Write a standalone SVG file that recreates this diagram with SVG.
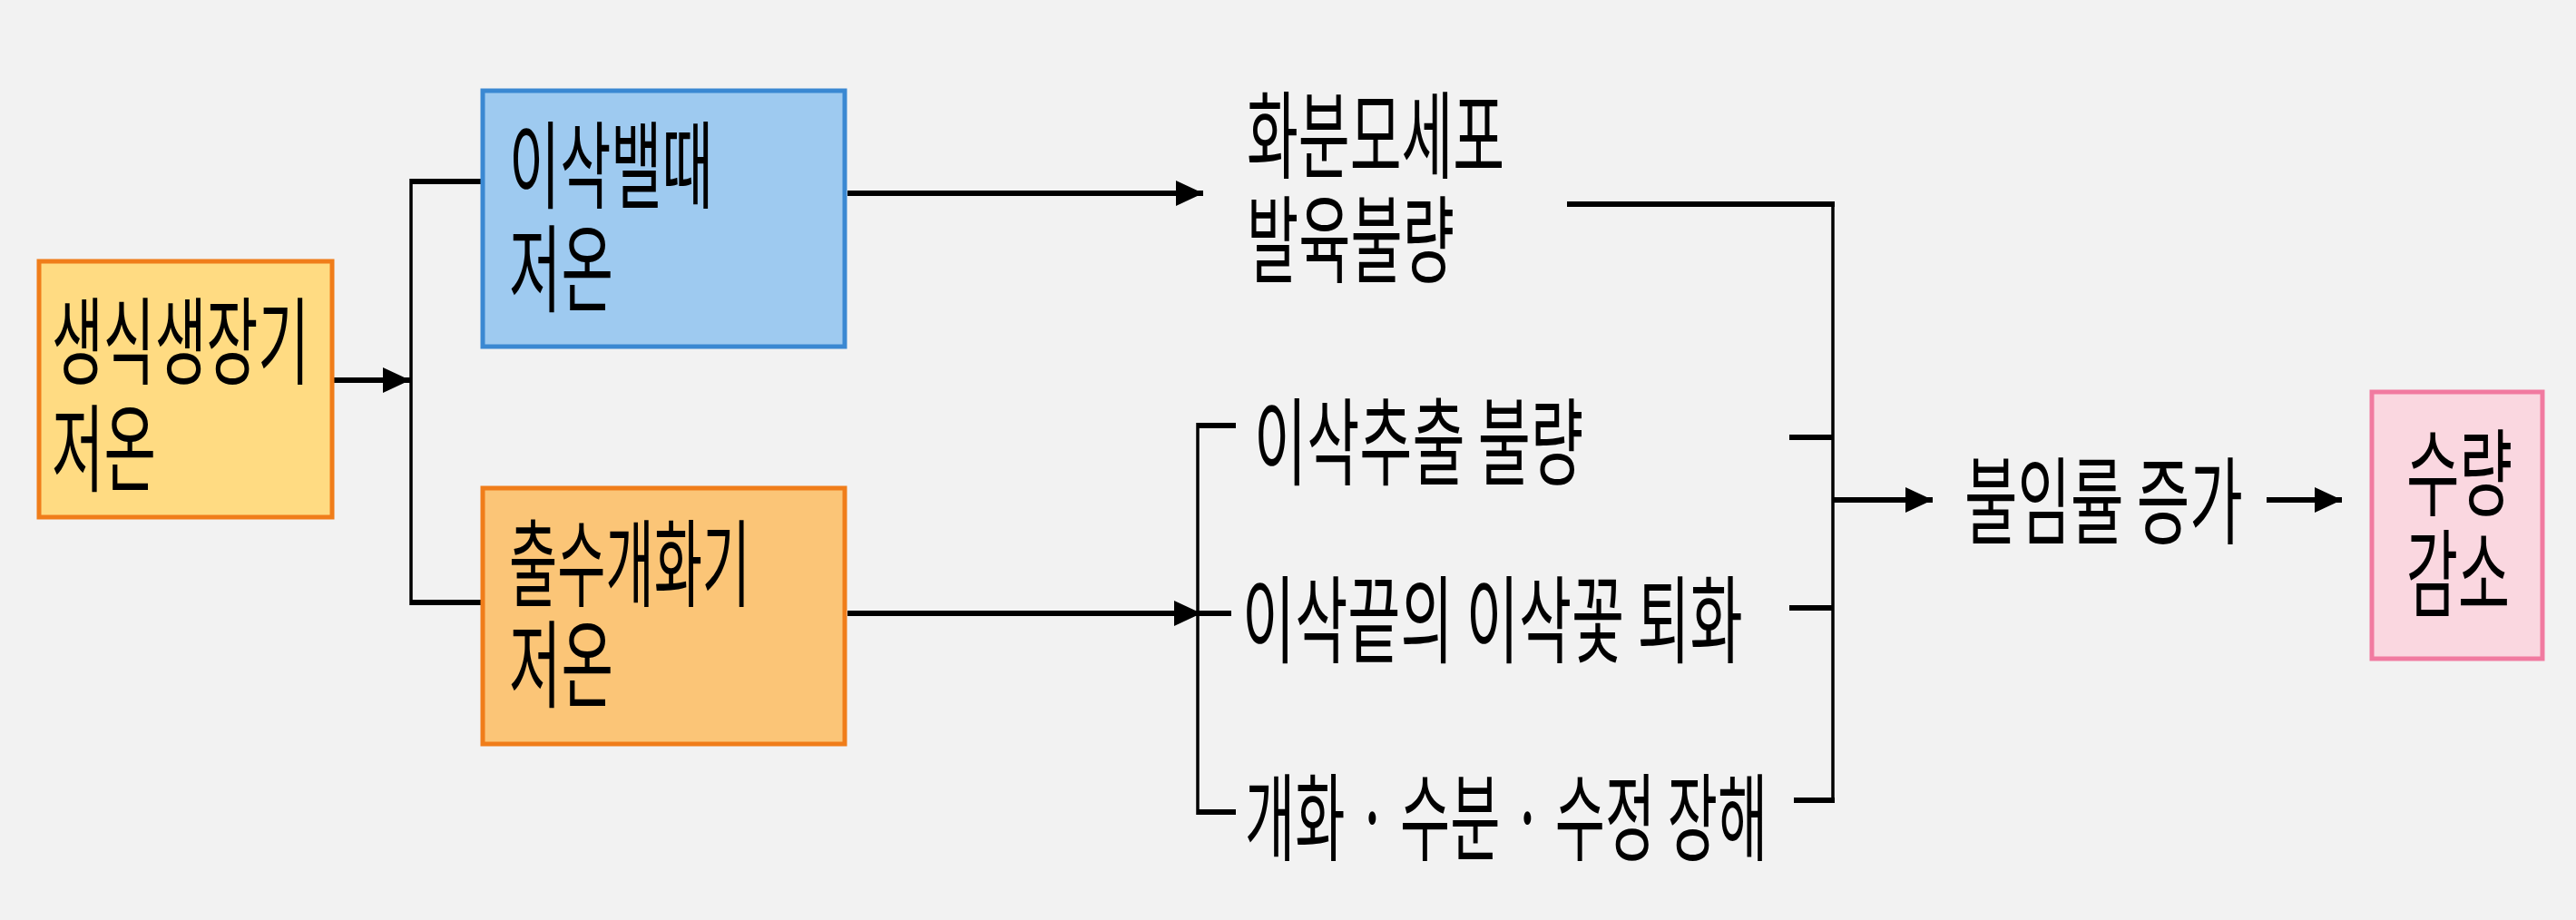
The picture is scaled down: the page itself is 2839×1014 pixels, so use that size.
<svg xmlns="http://www.w3.org/2000/svg" width="2839" height="1014" viewBox="0 0 2839 1014">
<style>
.t{font-family:"Noto Sans CJK KR","Noto Sans",sans-serif;font-size:105px;fill:#000;}
.h{stroke:#000;stroke-width:6;fill:none;}
.v{stroke:#000;stroke-width:3.5;fill:none;}
.box{stroke-width:5;}
</style>
<defs>
<marker id="ah" markerUnits="userSpaceOnUse" markerWidth="32" markerHeight="28" refX="30" refY="14" orient="auto">
<path d="M0,0 L30,14 L0,28 Z" fill="#000"/>
</marker>
</defs>
<rect x="0" y="0" width="2839" height="1014" fill="#f2f2f2"/>
<g id="connectors">
<line class="h" x1="368" y1="419" x2="452" y2="419" marker-end="url(#ah)"/>
<line class="v" x1="453" y1="197" x2="453" y2="667"/>
<line class="h" x1="453" y1="200" x2="532" y2="200"/>
<line class="h" x1="453" y1="664" x2="532" y2="664"/>
<line class="h" x1="934" y1="213" x2="1326" y2="213" marker-end="url(#ah)"/>
<line class="h" x1="934" y1="676" x2="1357" y2="676"/>
<line class="h" x1="1320" y1="676" x2="1324" y2="676" marker-end="url(#ah)"/>
<line class="v" x1="1320" y1="466" x2="1320" y2="898"/>
<line class="h" x1="1320" y1="469" x2="1362" y2="469"/>
<line class="h" x1="1320" y1="895" x2="1362" y2="895"/>
<line class="h" x1="1727" y1="225" x2="2022" y2="225"/>
<line class="v" x1="2020" y1="222" x2="2020" y2="885"/>
<line class="h" x1="1972" y1="482" x2="2020" y2="482"/>
<line class="h" x1="1972" y1="670" x2="2020" y2="670"/>
<line class="h" x1="1977" y1="882" x2="2022" y2="882"/>
<line class="h" x1="2020" y1="551" x2="2130" y2="551" marker-end="url(#ah)"/>
<line class="h" x1="2498" y1="551" x2="2581" y2="551" marker-end="url(#ah)"/>
</g>
<g id="node-yellow">
<rect class="box" x="43" y="288" width="323" height="282" fill="#ffdb82" stroke="#f07d1a"/>
<text class="t" transform="translate(57,415) scale(0.53,1)" textLength="536" lengthAdjust="spacingAndGlyphs">생식생장기</text>
<text class="t" transform="translate(57,533) scale(0.53,1)" textLength="217" lengthAdjust="spacingAndGlyphs">저온</text>
</g>
<g id="node-blue">
<rect class="box" x="532" y="100" width="399" height="282" fill="#9ecaf0" stroke="#3a88d2"/>
<text class="t" transform="translate(561,221) scale(0.53,1)" textLength="424" lengthAdjust="spacingAndGlyphs">이삭밸때</text>
<text class="t" transform="translate(561,335) scale(0.53,1)" textLength="217" lengthAdjust="spacingAndGlyphs">저온</text>
</g>
<g id="node-orange">
<rect class="box" x="532" y="538" width="399" height="282" fill="#fbc577" stroke="#f07d1a"/>
<text class="t" transform="translate(561,660) scale(0.53,1)" textLength="502" lengthAdjust="spacingAndGlyphs">출수개화기</text>
<text class="t" transform="translate(561,771) scale(0.53,1)" textLength="217" lengthAdjust="spacingAndGlyphs">저온</text>
</g>
<g id="node-pollen">
<text class="t" transform="translate(1374,188) scale(0.53,1)" textLength="536" lengthAdjust="spacingAndGlyphs">화분모세포</text>
<text class="t" transform="translate(1374,303) scale(0.53,1)" textLength="432" lengthAdjust="spacingAndGlyphs">발육불량</text>
</g>
<g id="node-emergence">
<text class="t" transform="translate(1382,526) scale(0.53,1)" textLength="685" lengthAdjust="spacingAndGlyphs">이삭추출 불량</text>
</g>
<g id="node-degeneration">
<text class="t" transform="translate(1369,722) scale(0.53,1)" textLength="1041" lengthAdjust="spacingAndGlyphs">이삭끝의 이삭꽃 퇴화</text>
</g>
<g id="node-fertilization">
<text class="t" transform="translate(1372,940) scale(0.53,1)" textLength="1087" lengthAdjust="spacingAndGlyphs">개화 · 수분 ·  수정 장해</text>
</g>
<g id="node-sterility">
<text class="t" transform="translate(2165,591) scale(0.53,1)" textLength="579" lengthAdjust="spacingAndGlyphs">불임률 증가</text>
</g>
<g id="node-yield">
<rect class="box" x="2614" y="432" width="188" height="294" fill="#fad7e0" stroke="#f17aa0"/>
<text class="t" transform="translate(2652,560) scale(0.53,1)" textLength="221" lengthAdjust="spacingAndGlyphs">수량</text>
<text class="t" transform="translate(2652,671) scale(0.53,1)" textLength="215" lengthAdjust="spacingAndGlyphs">감소</text>
</g>
</svg>
